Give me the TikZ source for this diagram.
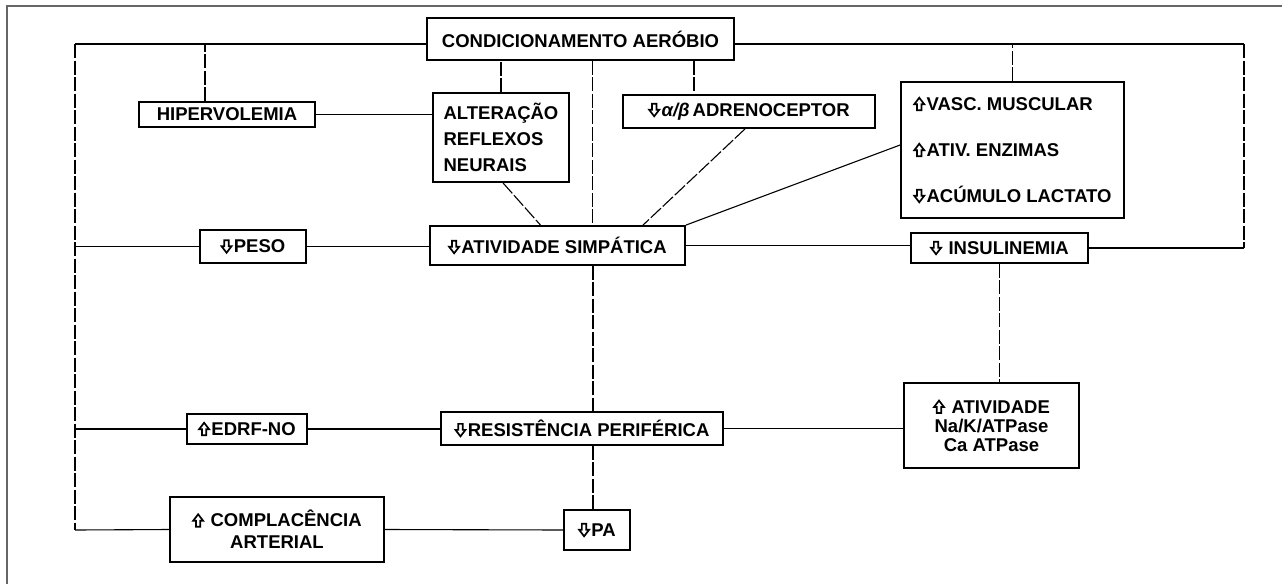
\documentclass[tikz,border=0pt]{standalone}
\usepackage{fontspec}
\setmainfont{Liberation Sans}
\newcommand\uparr{\tikz[baseline=0pt,x=1pt,y=1pt]\draw[line width=1.7pt,line join=miter] (2.8,0)--(7.2,0)--(7.2,6)--(10,6)--(5,12.5)--(0,6)--(2.8,6)--cycle;\hspace{1.5pt}}
\newcommand\dnarr{\tikz[baseline=0pt,x=1pt,y=1pt]\draw[line width=1.7pt,line join=miter] (2.8,12.5)--(7.2,12.5)--(7.2,6.5)--(10,6.5)--(5,0)--(0,6.5)--(2.8,6.5)--cycle;\hspace{1.5pt}}
\begin{document}
\begin{tikzpicture}[x=1pt,y=-1pt,
  box/.style={draw, line width=1.8pt, rectangle, inner sep=2pt,
    font=\fontsize{18.5}{22}\selectfont\bfseries},
  conn/.style={line width=1.1pt},
  dconn/.style={line width=1.1pt, dash pattern=on 14pt off 2.5pt}]
\useasboundingbox (0,0) rectangle (1282,584);
\draw[gray!80!black, line width=1.4pt] (7,584) -- (7,6) -- (1282,6);

\node[box, minimum width=307pt, minimum height=42pt] (cond) at (580.5,39) {CONDICIONAMENTO AERÓBIO};
\node[box, minimum width=176pt, minimum height=25pt] (hiper) at (227,114.5) {HIPERVOLEMIA};
\node[box, minimum width=136pt, minimum height=89pt, align=left] (alter) at (501,137.5) {ALTERAÇÃO\\[4pt]REFLEXOS\\[4pt]NEURAIS};
\node[box, minimum width=252pt, minimum height=33pt] (adren) at (749,111.5) {\dnarr\textit{α/β}\,ADRENOCEPTOR};
\node[box, minimum width=223pt, minimum height=136pt, align=left] (vasc) at (1012.5,150) {\uparr VASC. MUSCULAR\\[24pt]\uparr ATIV. ENZIMAS\\[24pt]\dnarr ACÚMULO LACTATO};
\node[box, minimum width=255pt, minimum height=39pt] (simp) at (557.5,245.5) {\dnarr ATIVIDADE SIMPÁTICA};
\node[box, minimum width=106pt, minimum height=33pt] (peso) at (253,246.5) {\dnarr PESO};
\node[box, minimum width=177pt, minimum height=30pt] (insul) at (999.5,248) {\dnarr\ INSULINEMIA};
\node[box, minimum width=175pt, minimum height=85pt, align=center] (nak) at (991.5,425.5) {\uparr\ ATIVIDADE\\[-3pt]Na/K/ATPase\\[-3pt]Ca ATPase};
\node[box, minimum width=282pt, minimum height=33pt] (resist) at (582,428.5) {\dnarr RESISTÊNCIA PERIFÉRICA};
\node[box, minimum width=120pt, minimum height=30pt] (edrf) at (247,429) {\uparr EDRF-NO};
\node[box, minimum width=66pt, minimum height=40pt] (pa) at (597,530) {\dnarr PA};
\node[box, minimum width=214pt, minimum height=65pt, align=center] (compl) at (277,529.5) {\uparr\ COMPLACÊNCIA\\ARTERIAL};

\coordinate (tl) at (75,44);
\coordinate (bl) at (75,530);
\coordinate (tr) at (1244,44);

% left loop
\draw[conn] (cond.west |- tl) -- (tl);
\draw[dconn] (tl) -- (bl);
\draw[conn] (bl) -- (compl.west);
\draw[conn] (tl |- peso.west) -- (peso.west);
\draw[conn] (tl |- edrf.west) -- (edrf.west);
\draw[dconn] ([xshift=-22pt]hiper.north) -- ([xshift=-22pt]hiper.north |- tl);
% right loop
\draw[conn] (cond.east |- tr) -- (tr);
\draw[dconn] (tr) -- (tr |- insul.east);
\draw[conn] (tr |- insul.east) -- (insul.east);
\draw[dconn] (vasc.north) -- (vasc.north |- tr);
% from CONDICIONAMENTO
\draw[dconn] (alter.north) -- (alter.north |- cond.south);
\draw[dconn] ([xshift=12pt]cond.south) -- ([xshift=12pt]cond.south |- simp.north);
\draw[dconn] ([xshift=113.5pt]cond.south) -- ([xshift=113.5pt]cond.south |- adren.north);
% middle
\draw[conn] (hiper.east) -- (alter.west |- hiper.east);
\draw[dconn] ([xshift=2pt]alter.south) -- ([xshift=-17pt]simp.north);
\draw[dconn] ([xshift=-4pt]adren.south) -- ([xshift=85.5pt]simp.north);
\draw[conn] (simp.north east) -- ([yshift=5pt]vasc.west);
\draw[conn] (peso.east) -- (simp.west |- peso.east);
\draw[conn] (simp.east) -- (insul.west |- simp.east);
\draw[dconn] (insul.south) -- (insul.south |- nak.north);
\draw[dconn] ([xshift=35.5pt]simp.south) -- ([xshift=35.5pt]simp.south |- resist.north);
\draw[conn] (resist.east) -- (nak.west |- resist.east);
\draw[conn] (edrf.east) -- (resist.west |- edrf.east);
\draw[dconn] ([xshift=-4pt]pa.north) -- ([xshift=-4pt]pa.north |- resist.south);
\draw[conn] (compl.east) -- (pa.west);
\end{tikzpicture}
\end{document}
